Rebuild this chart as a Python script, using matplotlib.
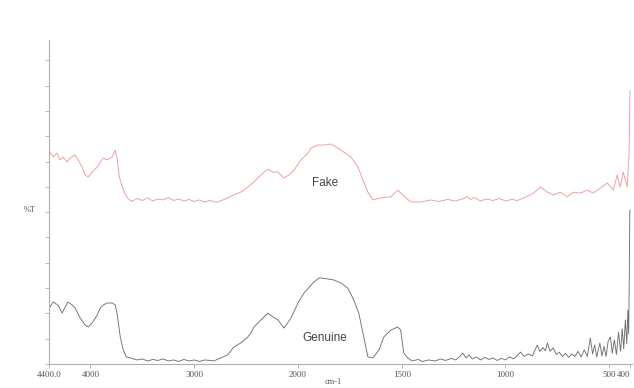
import numpy as np
import matplotlib
matplotlib.use("Agg")
import matplotlib.pyplot as plt

# ---------------- data ----------------
genuine_wn = [4400, 4390, 4361, 4313, 4274, 4245, 4216, 4177, 4148, 4100, 4052, 4022,
              3984, 3935, 3906, 3877, 3839, 3790, 3761, 3742, 3713, 3684, 3655, 3616,
              3550, 3500, 3450, 3400, 3350, 3300, 3250, 3200, 3150, 3100, 3050, 3000,
              2950, 2900, 2850, 2812, 2745, 2677, 2619, 2551, 2483, 2454, 2425, 2358,
              2290, 2241, 2193, 2135, 2067, 2000, 1971, 1937, 1923, 1899, 1889, 1856,
              1827, 1793, 1760, 1731, 1707, 1683, 1663, 1639, 1610, 1586, 1553, 1519,
              1505, 1490, 1471, 1450, 1420, 1400, 1370, 1340, 1310, 1290, 1260, 1240,
              1220, 1206, 1190, 1175, 1160, 1140, 1120, 1100, 1080, 1060, 1040, 1020,
              1000, 980, 960, 940, 927, 910, 890, 870, 855, 846, 835, 820, 808, 798,
              785, 770, 755, 740, 725, 710, 695, 680, 665, 650, 635, 620, 605, 591,
              580, 570, 560, 545, 535, 525, 515, 505, 494, 485, 475, 465, 455, 445,
              437, 430, 422, 415, 410, 406, 403, 401, 400]
genuine_t = [24.1, 22.5, 24.5, 23.3, 20.1, 22.5, 24.5, 23.3, 22.1, 18.2, 15.4, 14.6,
             16.2, 19.4, 22.1, 23.3, 24.1, 24.1, 23.3, 19.4, 10.7, 5.5, 2.8, 2.4,
             1.6, 2.0, 1.2, 1.8, 1.4, 2.0, 1.2, 1.6, 1.0, 1.8, 1.2, 1.6,
             1.0, 1.6, 1.4, 1.2, 2.4, 3.6, 6.7, 8.3, 10.7, 12.2, 14.6, 17.4,
             20.1, 18.6, 17.4, 14.2, 18.2, 24.1, 28.0, 31.2, 32.4, 34.0, 34.0, 33.6,
             33.2, 32.0, 30.0, 25.3, 20.1, 10.7, 2.8, 2.4, 5.5, 10.7, 13.4, 14.6,
             13.4, 4.3, 2.4, 1.2, 1.8, 1.0, 1.6, 1.2, 2.0, 1.4, 2.2, 1.6,
             3.0, 4.3, 2.4, 3.6, 2.0, 2.8, 1.6, 2.6, 1.8, 2.4, 1.4, 2.2,
             1.6, 2.8, 2.0, 3.6, 4.7, 3.0, 4.0, 3.2, 6.0, 7.5, 5.0, 6.5, 5.2, 8.3,
             5.0, 6.4, 3.8, 4.6, 3.0, 4.2, 2.6, 4.0, 3.0, 5.0, 2.8, 5.6, 3.0, 10.3,
             4.0, 7.5, 2.8, 8.3, 3.2, 7.0, 3.0, 9.0, 10.7, 4.2, 9.5, 3.8, 12.6, 5.0,
             14.0, 6.0, 17.4, 8.0, 21.3, 12.0, 35.0, 58.0, 60.8]

fake_wn = [4400, 4390, 4361, 4323, 4294, 4264, 4226, 4197, 4148, 4119, 4081, 4052,
           4022, 3984, 3935, 3906, 3877, 3839, 3790, 3761, 3742, 3722, 3693, 3664,
           3635, 3600, 3550, 3500, 3450, 3400, 3350, 3300, 3250, 3200, 3150, 3100,
           3050, 3000, 2950, 2900, 2850, 2800, 2774, 2677, 2619, 2551, 2483, 2425,
           2358, 2290, 2241, 2193, 2135, 2087, 2039, 1986, 1952, 1937, 1904, 1875,
           1841, 1808, 1779, 1745, 1711, 1687, 1663, 1639, 1601, 1553, 1519, 1495,
           1456, 1408, 1360, 1320, 1280, 1240, 1200, 1185, 1170, 1150, 1120, 1090,
           1060, 1030, 1000, 970, 942, 900, 865, 831, 798, 769, 735, 702, 673, 639,
           606, 577, 543, 509, 480, 461, 447, 432, 413, 404, 402, 400]
fake_t = [83.0, 83.7, 81.8, 83.3, 80.6, 81.8, 79.8, 81.4, 82.6, 80.6, 77.8, 74.7,
          73.9, 75.8, 77.8, 79.8, 81.4, 80.6, 81.8, 84.5, 80.6, 73.9, 69.9, 66.8,
          65.2, 64.2, 65.4, 64.6, 65.6, 64.4, 65.2, 64.8, 65.8, 64.6, 65.2, 64.4,
          65.0, 64.2, 64.8, 64.0, 64.6, 64.0, 64.0, 65.6, 66.8, 67.9, 69.9, 71.9,
          74.7, 77.0, 75.8, 75.8, 73.5, 74.7, 76.6, 80.6, 83.3, 85.3, 86.5, 86.5,
          86.9, 85.3, 83.7, 81.8, 77.8, 72.7, 67.9, 64.8, 65.6, 66.0, 68.7, 66.8,
          64.0, 64.0, 64.8, 64.2, 65.0, 64.4, 65.4, 66.2, 65.0, 65.8, 64.4, 65.2,
          64.6, 65.4, 64.4, 65.0, 64.6, 66.0, 67.5, 69.9, 67.9, 66.8, 67.9, 66.0,
          67.9, 67.5, 68.7, 67.5, 69.5, 71.5, 68.7, 74.7, 69.9, 75.8, 69.9, 83.3,
          95.0, 108.0]

x_ticks = [4400, 4000, 3000, 2000, 1500, 1000, 500, 400]
x_tick_labels = ["4400.0", "4000", "3000", "2000", "1500", "1000", "500", "400"]
y_ticks = list(range(0, 130, 10))


# ---------------- IR style x scale: 2x expansion below 2000 cm-1 ----------------
def fwd(x):
    x = np.asarray(x, dtype=float)
    return np.where(x <= 2000, 2 * x, x + 2000)


def inv(u):
    u = np.asarray(u, dtype=float)
    return np.where(u <= 4000, u / 2, u - 2000)


fig = plt.figure(figsize=(6.34, 3.88), dpi=100)
ax = fig.add_axes([49 / 634, 24 / 388, 583 / 634, 324 / 388])
ax.set_xscale("function", functions=(fwd, inv))

ax.plot(fake_wn, fake_t, color="#ee9a9a", lw=0.65)
ax.plot(genuine_wn, genuine_t, color="#707070", lw=0.65)

ax.set_xlim(4400, 390)
ax.set_ylim(0, 128)

ax.set_xticks(x_ticks)
ax.set_xticklabels(x_tick_labels, family="Liberation Serif", fontsize=6.5, color="#555555")
ax.get_xticklabels()[-1].set_horizontalalignment("right")
ax.xaxis.set_minor_locator(matplotlib.ticker.NullLocator())
ax.set_yticks(y_ticks)
ax.set_yticklabels([])
ax.yaxis.set_minor_locator(matplotlib.ticker.NullLocator())
ax.tick_params(axis="both", direction="out", length=3, width=0.6, color="#aaaaaa", pad=2)

for s in ["top", "right"]:
    ax.spines[s].set_visible(False)
for s in ["left", "bottom"]:
    ax.spines[s].set_color("#b0b0b0")
    ax.spines[s].set_linewidth(0.8)

ax.text(1870, 71.5, "Fake", ha="center", va="center", fontsize=8.5,
        family="Liberation Sans", color="#444444")
ax.text(1870, 10.3, "Genuine", ha="center", va="center", fontsize=8.5,
        family="Liberation Sans", color="#444444")

fig.text(30 / 634, 1 - 210 / 388, "%T", ha="center", va="center",
         family="Liberation Serif", fontsize=6, color="#555555")
fig.text(333 / 634, 1 - 382 / 388, "cm-1", ha="center", va="center",
         family="Liberation Serif", fontsize=6, color="#555555")

fig.savefig("out.png", dpi=100, facecolor="white")
